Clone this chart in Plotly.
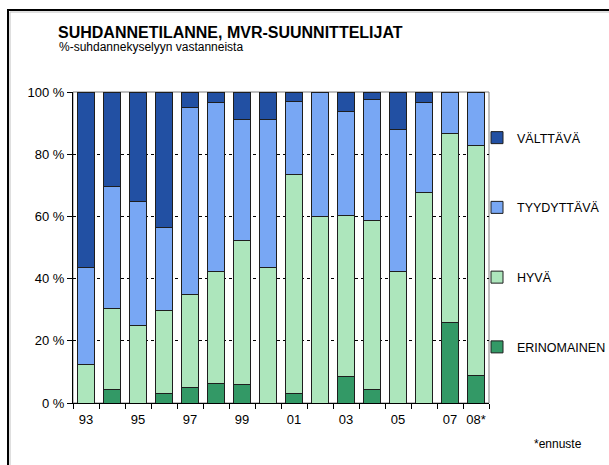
import plotly.graph_objects as go

years = ["93", "94", "95", "96", "97", "98", "99", "00", "01", "02", "03", "04", "05", "06", "07", "08*"]
tick_labels = ["93", "", "95", "", "97", "", "99", "", "01", "", "03", "", "05", "", "07", "08*"]

erinomainen = [0, 4.4, 0, 3.2, 5.0, 6.3, 5.8, 0, 3.1, 0, 8.4, 4.4, 0, 0, 25.9, 9.0]
hyva = [12.4, 25.9, 24.9, 26.7, 29.9, 36.0, 46.3, 43.5, 70.3, 60.0, 51.9, 54.2, 42.3, 67.7, 60.9, 73.8]
tyydyttava = [31.2, 39.2, 40.0, 26.6, 60.0, 54.4, 39.0, 47.6, 23.6, 40.0, 33.3, 39.0, 45.5, 29.0, 13.2, 17.2]
valttava = [56.4, 30.5, 35.1, 43.5, 5.1, 3.3, 8.9, 8.9, 3.0, 0, 6.4, 2.4, 12.2, 3.3, 0, 0]

series = [
    ("ERINOMAINEN", erinomainen, "#339966", 4),
    ("HYVÄ", hyva, "#ADE6BC", 3),
    ("TYYDYTTÄVÄ", tyydyttava, "#78A7F4", 2),
    ("VÄLTTÄVÄ", valttava, "#2250A3", 1),
]

W, H = 609, 465
L, R, T, B = 73, 489, 92, 403


def px(x):
    return (x - L) / (R - L)


def py(y):
    return (B - y) / (B - T)


FONT = "Arial, 'Liberation Sans', sans-serif"

fig = go.Figure()
for name, vals, col, rank in series:
    fig.add_trace(go.Bar(
        x=years, y=vals, name=name, legendgroup=name, legendrank=rank,
        marker=dict(color=col, line=dict(color="#1e1e1e", width=1)),
    ))

fig.update_layout(
    width=W, height=H,
    margin=dict(l=L, r=W - R, t=T, b=H - B, pad=0, autoexpand=False),
    barmode="stack", bargap=0.37,
    paper_bgcolor="white", plot_bgcolor="white",
    font=dict(family=FONT, size=13, color="black"),
    legend=dict(
        x=px(477), xanchor="left", y=py(123), yanchor="top",
        traceorder="grouped", tracegroupgap=50.5,
        font=dict(size=12.5), bgcolor="rgba(0,0,0,0)",
    ),
    xaxis=dict(
        type="category", tickmode="array", tickvals=years, ticktext=tick_labels,
        tickson="boundaries", ticks="outside", ticklen=5, tickcolor="black",
        showline=True, linecolor="black", linewidth=1, showgrid=False,
        tickangle=0, ticklabelstandoff=4, tickfont=dict(size=13), automargin=False,
    ),
    yaxis=dict(
        range=[0, 100], dtick=20, ticksuffix=" %", ticks="outside", ticklen=5,
        tickcolor="black", showline=True, linecolor="black", linewidth=1,
        showgrid=True, gridcolor="black", griddash="dot", gridwidth=1,
        zeroline=False, tickfont=dict(size=13), automargin=False,
    ),
    shapes=[
        dict(type="rect", xref="paper", yref="paper", x0=0, x1=1, y0=0, y1=1,
             line=dict(color="#808080", width=1), layer="below"),
        dict(type="path", xref="paper", yref="paper",
             path=f"M {px(10)} {py(480)} L {px(10)} {py(12)} L {px(620)} {py(12)}",
             line=dict(color="#c0c0c0", width=1)),
        dict(type="path", xref="paper", yref="paper",
             path=f"M {px(8)} {py(480)} L {px(8)} {py(10)} L {px(620)} {py(10)}",
             line=dict(color="black", width=2)),
    ],
    annotations=[
        dict(text="<b>SUHDANNETILANNE, MVR-SUUNNITTELIJAT</b>", xref="paper", yref="paper",
             x=px(56), y=py(33), xanchor="left", yanchor="middle", showarrow=False,
             font=dict(size=16)),
        dict(text="%-suhdannekyselyyn vastanneista", xref="paper", yref="paper",
             x=px(57), y=py(47.5), xanchor="left", yanchor="middle", showarrow=False,
             font=dict(size=12)),
        dict(text="*ennuste", xref="paper", yref="paper",
             x=px(532), y=py(444), xanchor="left", yanchor="middle", showarrow=False,
             font=dict(size=12)),
    ],
)

fig.write_html("out.html", config={"displayModeBar": False},
               post_script="document.body.style.margin='0px';")
